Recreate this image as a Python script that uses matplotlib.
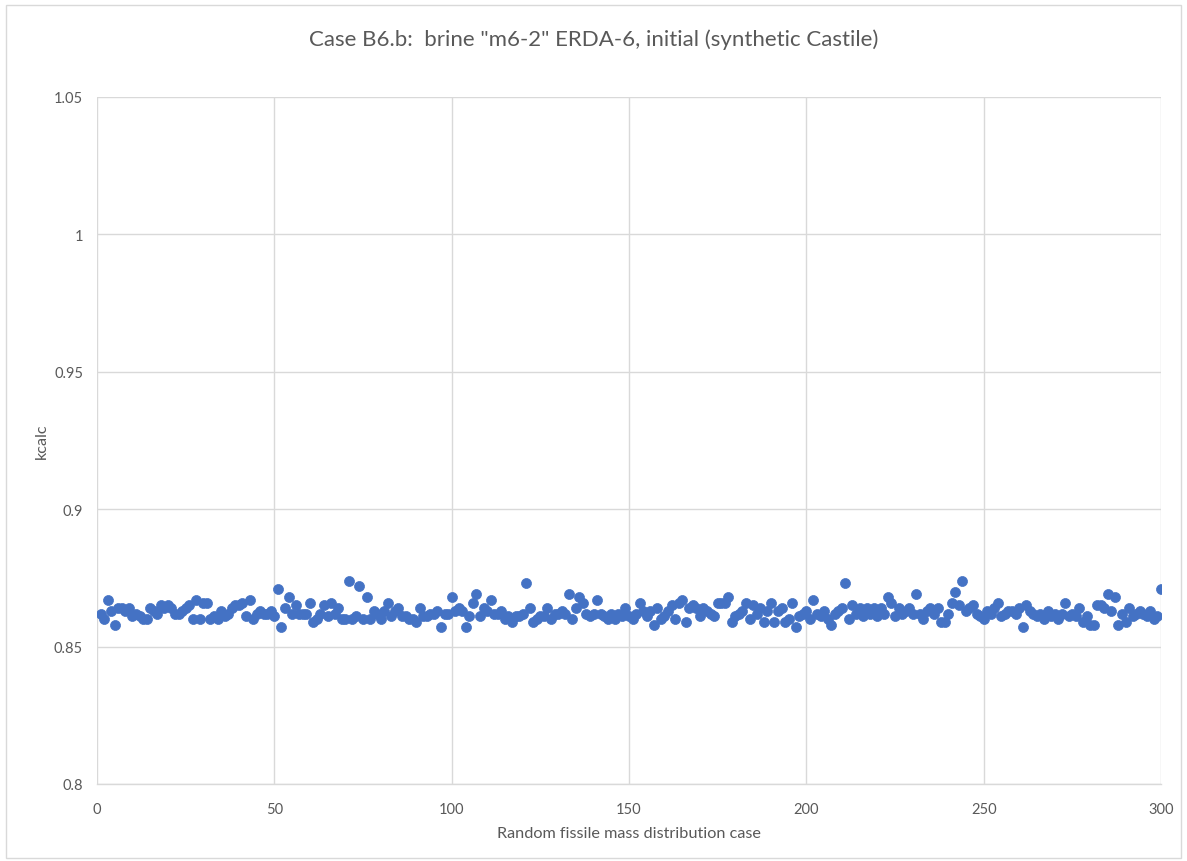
import matplotlib
matplotlib.use("Agg")
import matplotlib.pyplot as plt
from matplotlib.patches import Rectangle
from matplotlib.ticker import FuncFormatter

case_numbers = list(range(1, 301))

kcalc = [
    0.862, 0.860, 0.867, 0.863, 0.858, 0.864, 0.864, 0.863, 0.864, 0.861,
    0.862, 0.861, 0.860, 0.860, 0.864, 0.863, 0.862, 0.865, 0.864, 0.865,
    0.864, 0.862, 0.862, 0.863, 0.864, 0.865, 0.860, 0.867, 0.860, 0.866,
    0.866, 0.860, 0.861, 0.860, 0.863, 0.861, 0.862, 0.864, 0.865, 0.865,
    0.866, 0.861, 0.867, 0.860, 0.862, 0.863, 0.862, 0.862, 0.863, 0.861,
    0.871, 0.857, 0.864, 0.868, 0.862, 0.865, 0.862, 0.862, 0.862, 0.866,
    0.859, 0.860, 0.862, 0.865, 0.861, 0.866, 0.862, 0.864, 0.860, 0.860,
    0.874, 0.860, 0.861, 0.872, 0.860, 0.868, 0.860, 0.863, 0.862, 0.860,
    0.863, 0.866, 0.861, 0.863, 0.864, 0.861, 0.861, 0.860, 0.860, 0.859,
    0.864, 0.861, 0.861, 0.862, 0.862, 0.863, 0.857, 0.862, 0.862, 0.868,
    0.863, 0.864, 0.863, 0.857, 0.861, 0.866, 0.869, 0.861, 0.864, 0.863,
    0.867, 0.862, 0.862, 0.863, 0.860, 0.861, 0.859, 0.861, 0.861, 0.862,
    0.873, 0.864, 0.859, 0.860, 0.861, 0.861, 0.864, 0.860, 0.862, 0.862,
    0.863, 0.862, 0.869, 0.860, 0.864, 0.868, 0.866, 0.862, 0.861, 0.862,
    0.867, 0.862, 0.861, 0.860, 0.862, 0.860, 0.862, 0.861, 0.864, 0.861,
    0.860, 0.862, 0.866, 0.863, 0.861, 0.863, 0.858, 0.864, 0.860, 0.861,
    0.863, 0.865, 0.860, 0.866, 0.867, 0.859, 0.864, 0.865, 0.864, 0.861,
    0.864, 0.863, 0.862, 0.861, 0.866, 0.866, 0.866, 0.868, 0.859, 0.861,
    0.862, 0.863, 0.866, 0.860, 0.865, 0.862, 0.864, 0.859, 0.863, 0.866,
    0.859, 0.863, 0.864, 0.859, 0.860, 0.866, 0.857, 0.861, 0.862, 0.863,
    0.860, 0.867, 0.862, 0.861, 0.863, 0.860, 0.858, 0.862, 0.863, 0.864,
    0.873, 0.860, 0.865, 0.862, 0.864, 0.861, 0.864, 0.862, 0.864, 0.861,
    0.864, 0.862, 0.868, 0.866, 0.861, 0.864, 0.862, 0.863, 0.864, 0.862,
    0.869, 0.862, 0.860, 0.863, 0.864, 0.862, 0.864, 0.859, 0.859, 0.862,
    0.866, 0.870, 0.865, 0.874, 0.863, 0.864, 0.865, 0.862, 0.861, 0.860,
    0.863, 0.862, 0.864, 0.866, 0.861, 0.862, 0.863, 0.863, 0.862, 0.864,
    0.857, 0.865, 0.863, 0.862, 0.861, 0.862, 0.860, 0.863, 0.861, 0.862,
    0.860, 0.862, 0.866, 0.861, 0.862, 0.861, 0.864, 0.859, 0.861, 0.858,
    0.858, 0.865, 0.865, 0.864, 0.869, 0.863, 0.868, 0.858, 0.862, 0.859,
    0.864, 0.861, 0.862, 0.863, 0.862, 0.861, 0.863, 0.860, 0.861, 0.871,
]

x_ticks = [0, 50, 100, 150, 200, 250, 300]
y_ticks = [0.8, 0.85, 0.9, 0.95, 1.0, 1.05]

title_text = 'Case B6.b:  brine "m6-2" ERDA-6, initial (synthetic Castile)'
x_label = "Random fissile mass distribution case"
y_label = "kcalc"

text_gray = "#595959"
grid_gray = "#d9d9d9"
marker_blue = "#4472C4"

plt.rcParams["font.family"] = ["Lato", "DejaVu Sans"]

fig = plt.figure(figsize=(11.87, 8.62), dpi=100)
ax = fig.add_axes([97 / 1187, 1 - 785 / 862, (1161 - 97) / 1187, (785 - 98) / 862])

ax.scatter(case_numbers, kcalc, s=52, color=marker_blue, edgecolors=marker_blue,
           linewidths=0.5, zorder=3)

ax.set_xlim(0, 300)
ax.set_ylim(0.8, 1.05)
ax.set_xticks(x_ticks)
ax.set_yticks(y_ticks)
ax.yaxis.set_major_formatter(FuncFormatter(lambda v, _: f"{v:g}"))
ax.grid(True, color=grid_gray, linewidth=1.0, zorder=0)
ax.set_axisbelow(True)

for side in ("left", "right", "top"):
    ax.spines[side].set_visible(False)
ax.spines["bottom"].set_color(grid_gray)
ax.spines["bottom"].set_linewidth(1.0)

ax.tick_params(axis="both", length=0, labelsize=10.5, labelcolor=text_gray)
ax.tick_params(axis="x", pad=13)
ax.tick_params(axis="y", pad=10)

ax.set_xlabel(x_label, fontsize=11.7, color=text_gray, labelpad=7)
ax.set_ylabel(y_label, fontsize=11.7, color=text_gray, labelpad=4)

fig.text(0.5, 1 - 40 / 862, title_text, ha="center", va="center",
         fontsize=16, color=text_gray)

# light chart-area frame
fig.patches.append(Rectangle((6 / 1187, 3 / 862), 1175 / 1187, 853 / 862,
                             transform=fig.transFigure, fill=False,
                             edgecolor=grid_gray, linewidth=1.0))

fig.savefig("out.png", dpi=100)
